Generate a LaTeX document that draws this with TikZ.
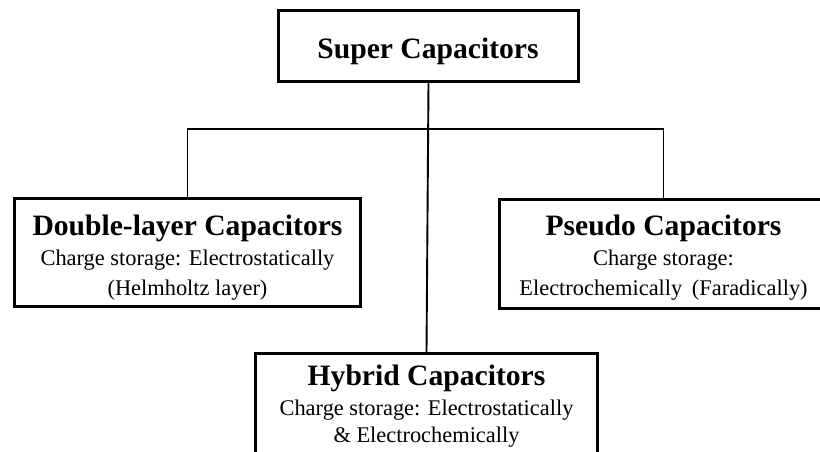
\documentclass[tikz,border=0pt]{standalone}
\usepackage{fontspec}
\setmainfont{Liberation Serif}
\begin{document}
\begin{tikzpicture}[x=1pt,y=-1pt,
  box/.style={draw=black,line width=3.3pt,inner sep=0pt,fill=none},
  conn/.style={draw=black,line width=1.9pt},
  title/.style={anchor=base,inner sep=0pt,font=\fontsize{29.6}{32}\selectfont\bfseries},
  body/.style={anchor=base,inner sep=0pt,font=\fontsize{22.4}{26}\selectfont}]
\useasboundingbox (0,0) rectangle (820,451);
\clip (0,0) rectangle (820,451);
\fill[white] (0,0) rectangle (820,451);
% boxes
\node[box,minimum width=300pt,minimum height=71pt] (super) at (428.5,46) {};
\node[box,minimum width=345.7pt,minimum height=107.7pt] (double) at (187.5,252.5) {};
\node[box,minimum width=327.7pt,minimum height=108.7pt] (pseudo) at (663.5,254) {};
\node[box,minimum width=341.7pt,minimum height=110pt] (hybrid) at (426.5,408.6) {};
% connectors
\coordinate (bar) at (428.5,129);
\draw[conn] (super.south) -- (hybrid.north);
\draw[conn] (double.north) |- (bar) -| (pseudo.north);
% texts
\node[title] (tsuper) at (428,58) {Super Capacitors};
\node[title] (tdouble) at (187.5,235) {Double-layer Capacitors};
\node[body] (bdouble1) at (187.5,265) {Charge storage: Electrostatically};
\node[body] (bdouble2) at (187.5,295) {(Helmholtz layer)};
\node[title] (tpseudo) at (663.5,235) {Pseudo Capacitors};
\node[body] (bpseudo1) at (663.5,265) {Charge storage:};
\node[body] (bpseudo2) at (663.5,295) {Electrochemically\hspace{4pt} (Faradically)};
\node[title] (thybrid) at (426.5,385) {Hybrid Capacitors};
\node[body] (bhybrid1) at (426.5,415) {Charge storage: Electrostatically};
\node[body] (bhybrid2) at (426.5,442) {\& Electrochemically};
\end{tikzpicture}
\end{document}
